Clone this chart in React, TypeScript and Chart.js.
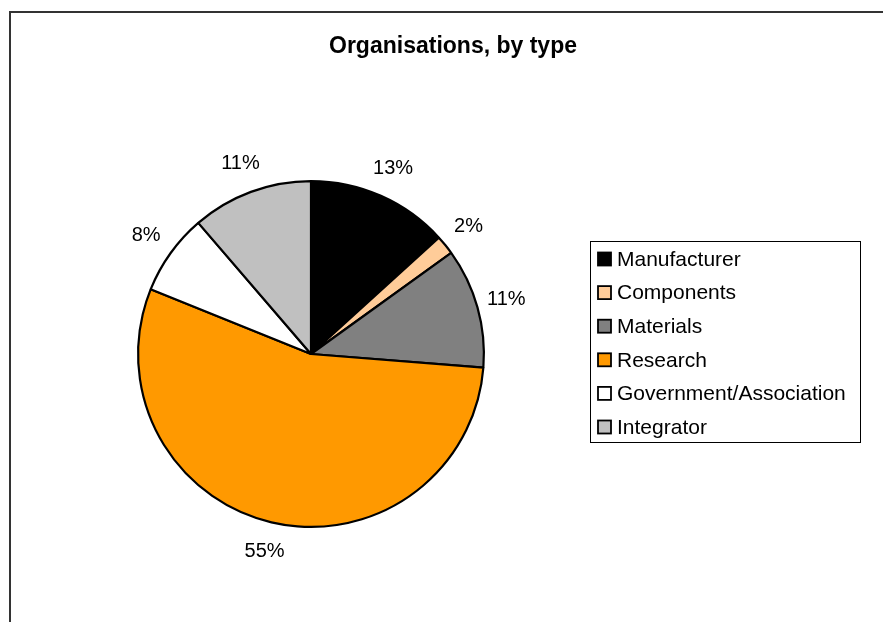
import React, { useEffect, useRef } from "react";
import { Chart, registerables } from "chart.js";

Chart.register(...registerables);

const categories = ["Manufacturer", "Components", "Materials", "Research", "Government/Association", "Integrator"];
const shares = [13.25, 1.8, 11.2, 54.85, 7.6, 11.3];
const sliceColors = ["#000000", "#FFCC99", "#808080", "#FF9900", "#FFFFFF", "#C0C0C0"];
const titleText = "Organisations, by type";

const FONT = "Arial, 'Liberation Sans', sans-serif";

const decorPlugin = {
  id: "decor",
  beforeDraw(chart: any) {
    const ctx = chart.ctx;
    ctx.save();
    ctx.fillStyle = "#ffffff";
    ctx.fillRect(0, 0, chart.width, chart.height);
    ctx.strokeStyle = "#333333";
    ctx.lineWidth = 2;
    ctx.strokeRect(10, 12, chart.width + 20, chart.height + 20);
    ctx.restore();
  },
  afterDraw(chart: any) {
    const ctx = chart.ctx;
    ctx.save();
    // title
    ctx.fillStyle = "#000";
    ctx.font = `bold 23px ${FONT}`;
    ctx.textAlign = "center";
    ctx.textBaseline = "middle";
    ctx.fillText(titleText, 453, 47);

    // percentage labels
    const meta = chart.getDatasetMeta(0);
    const data = chart.data.datasets[0].data as number[];
    const total = data.reduce((a, b) => a + b, 0);
    ctx.font = `20px ${FONT}`;
    meta.data.forEach((arc: any, i: number) => {
      const { x, y, startAngle, endAngle, outerRadius } = arc.getProps(["x", "y", "startAngle", "endAngle", "outerRadius"], true);
      const mid = (startAngle + endAngle) / 2;
      const d = outerRadius + 30;
      const lx = x + Math.cos(mid) * d;
      const ly = y + Math.sin(mid) * d;
      ctx.fillText(Math.round((data[i] / total) * 100) + "%", lx, ly);
    });

    // legend
    const bx = 590.5, by = 241.5, bw = 270, bh = 201;
    ctx.strokeStyle = "#000";
    ctx.lineWidth = 1;
    ctx.strokeRect(bx, by, bw, bh);
    ctx.textAlign = "left";
    ctx.font = `21px ${FONT}`;
    categories.forEach((c, i) => {
      const cy = 259 + i * 33.6;
      ctx.fillStyle = sliceColors[i];
      ctx.fillRect(598, cy - 6.5, 13, 13);
      ctx.lineWidth = 1.8;
      ctx.strokeStyle = "#000";
      ctx.strokeRect(598, cy - 6.5, 13, 13);
      ctx.fillStyle = "#000";
      ctx.fillText(c, 617, cy + 1);
    });
    ctx.restore();
  },
};

export default function App() {
  const ref = useRef<HTMLCanvasElement | null>(null);
  useEffect(() => {
    document.body.style.margin = "0";
    const chart = new Chart(ref.current as HTMLCanvasElement, {
      type: "pie",
      data: {
        labels: categories,
        datasets: [
          {
            data: shares,
            backgroundColor: sliceColors,
            borderColor: "#000000",
            borderWidth: 2.2,
          },
        ],
      },
      options: {
        animation: false,
        responsive: false,
        maintainAspectRatio: false,
        layout: { padding: { left: 137, top: 180, right: 398, bottom: 94 } },
        plugins: {
          legend: { display: false },
          tooltip: { enabled: false },
          title: { display: false },
        },
      },
      plugins: [decorPlugin],
    });
    return () => chart.destroy();
  }, []);
  return (
    <div style={{ position: "fixed", left: 0, top: 0, width: 883, height: 622 }}>
      <canvas ref={ref} width={883} height={622} style={{ width: 883, height: 622 }} />
    </div>
  );
}
